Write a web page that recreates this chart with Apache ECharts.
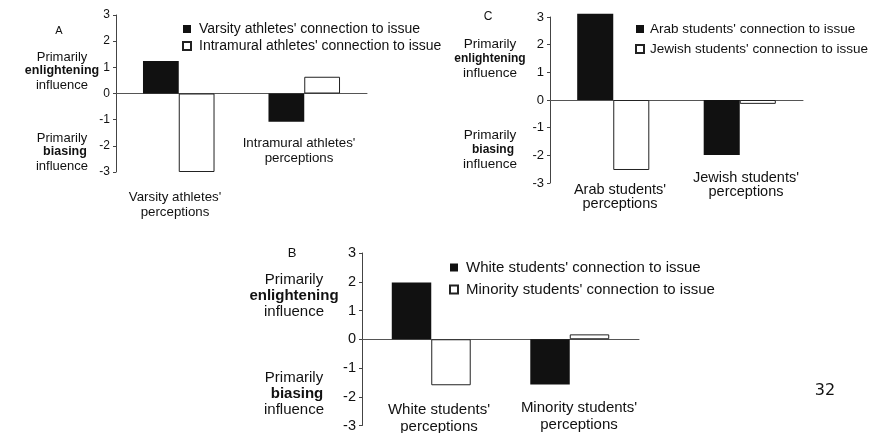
<!DOCTYPE html>
<html>
<head>
<meta charset="utf-8">
<script src="https://cdn.jsdelivr.net/npm/echarts@6/dist/echarts.min.js"></script>
<style>
  html, body { margin: 0; padding: 0; background: #fff; }
  #main { width: 885px; height: 433px; }
</style>
</head>
<body>
<div id="main"></div>
<script>
// 数据
var catsA = ["Varsity athletes' perceptions", "Intramural athletes' perceptions"];
var varsityConn = [1.24, -1.08];
var intramuralConn = [-3.0, 0.64];

var catsC = ["Arab students' perceptions", "Jewish students' perceptions"];
var arabConn = [3.12, -1.99];
var jewishConn = [-2.53, -0.14];

var catsB = ["White students' perceptions", "Minority students' perceptions"];
var whiteConn = [1.97, -1.57];
var minorityConn = [-1.6, 0.17];

var yTicks = [-3, -2, -1, 0, 1, 2, 3];

var namesA = ["Varsity athletes' connection to issue", "Intramural athletes' connection to issue"];
var namesC = ["Arab students' connection to issue", "Jewish students' connection to issue"];
var namesB = ["White students' connection to issue", "Minority students' connection to issue"];

var FONT = 'Liberation Sans';
var blackBar = { color: '#111' };
var whiteBar = { color: '#fff', borderColor: '#222', borderWidth: 1 };

var myChart = echarts.init(document.getElementById('main'));

function yAxisOf(i, size) {
    return {
        gridIndex: i,
        type: 'value',
        min: yTicks[0],
        max: yTicks[yTicks.length - 1],
        interval: 1,
        axisLine: { show: true, lineStyle: { color: '#444', width: 1 } },
        axisTick: { show: true, length: 3, lineStyle: { color: '#444' } },
        axisLabel: { color: '#111', fontFamily: FONT, fontSize: size, margin: 6 },
        splitLine: { show: false }
    };
}
function xAxisOf(i, cats) {
    return {
        gridIndex: i,
        type: 'category',
        data: cats,
        axisLine: { onZero: true, lineStyle: { color: '#555', width: 1 } },
        axisTick: { show: false },
        axisLabel: { show: false }
    };
}
function barOf(name, i, data, style) {
    return {
        name: name,
        type: 'bar',
        xAxisIndex: i,
        yAxisIndex: i,
        data: data,
        barGap: '0%',
        barCategoryGap: '43%',
        clip: false,
        itemStyle: style
    };
}
function legendOf(names, left, top, size, gap, pad) {
    return {
        data: names,
        orient: 'vertical',
        left: left,
        top: top,
        icon: 'rect',
        itemWidth: 8,
        itemHeight: 8,
        itemGap: gap,
        selectedMode: false,
        textStyle: { fontFamily: FONT, fontSize: size, color: '#111', padding: [0, 0, 0, pad] }
    };
}
function txt(s, x, y, size, bold) {
    return {
        type: 'text',
        x: x, y: y,
        style: {
            text: s,
            fill: '#111',
            font: (bold ? 'bold ' : '') + size + 'px "' + FONT + '"',
            textAlign: 'center',
            textVerticalAlign: 'middle'
        }
    };
}
// 两行的类别标签
function catLabel(name, x, y, size, lh) {
    var i = name.lastIndexOf(' ');
    return [txt(name.slice(0, i), x, y, size), txt(name.slice(i + 1), x, y + lh, size)];
}
function sideLabels(x, y1, y2, size, bsize, lh) {
    return [
        txt('Primarily', x, y1, size), txt('enlightening', x, y1 + lh, bsize, true), txt('influence', x, y1 + 2 * lh, size),
        txt('Primarily', x, y2, size), txt('biasing', x + 3, y2 + lh, bsize, true), txt('influence', x, y2 + 2 * lh, size)
    ];
}

var graphics = [].concat(
    [txt('A', 59, 31, 11), txt('C', 488, 17, 12), txt('B', 292, 253, 13)],
    sideLabels(62, 57, 138, 13, 12.5, 14),
    sideLabels(490, 44, 135, 13.5, 12, 14.5),
    sideLabels(294, 280, 378, 15, 15, 16),
    catLabel(catsA[0], 175, 197, 13.3, 15),
    catLabel(catsA[1], 299, 143, 13.3, 15),
    catLabel(catsC[0], 620, 190, 14.5, 14),
    catLabel(catsC[1], 746, 178, 14.5, 14),
    catLabel(catsB[0], 439, 410, 15, 17),
    catLabel(catsB[1], 579, 408, 15, 17),
    [{
        type: 'text', x: 825, y: 391,
        style: { text: '32', fill: '#111', font: '16px "DejaVu Sans"', textAlign: 'center', textVerticalAlign: 'middle' }
    }]
);

option = {
    backgroundColor: '#fff',
    animation: false,
    grid: [
        { left: 116, top: 15, width: 251, height: 157 },
        { left: 550, top: 17, width: 253, height: 166 },
        { left: 362, top: 253, width: 277, height: 176 }
    ],
    xAxis: [xAxisOf(0, catsA), xAxisOf(1, catsC), xAxisOf(2, catsB)],
    yAxis: [yAxisOf(0, 12), yAxisOf(1, 13), yAxisOf(2, 14.5)],
    legend: [
        legendOf(namesA, 177, 17, 14, 3, 3),
        legendOf(namesC, 630, 17, 13.5, 6, 1),
        legendOf(namesB, 444, 255, 15, 7, 3)
    ],
    series: [
        barOf(namesA[0], 0, varsityConn, blackBar),
        barOf(namesA[1], 0, intramuralConn, whiteBar),
        barOf(namesC[0], 1, arabConn, blackBar),
        barOf(namesC[1], 1, jewishConn, whiteBar),
        barOf(namesB[0], 2, whiteConn, blackBar),
        barOf(namesB[1], 2, minorityConn, whiteBar)
    ],
    graphic: graphics
};

myChart.setOption(option);
</script>
</body>
</html>
